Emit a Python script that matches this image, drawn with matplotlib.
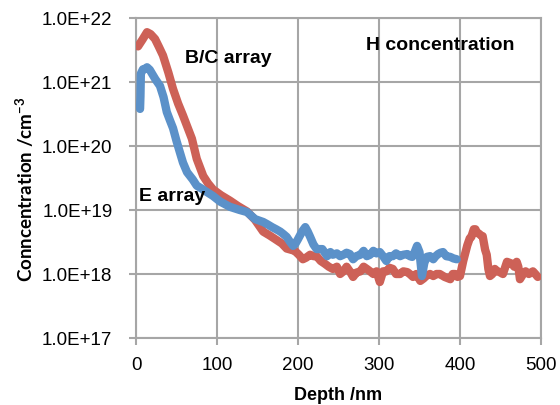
import matplotlib
matplotlib.use("Agg")
import matplotlib.pyplot as plt
from matplotlib.ticker import FixedLocator, FixedFormatter

plt.rcParams["mathtext.default"] = "regular"

# ---- data ----
bc_depth = [2.5, 8, 13.6, 18, 23.5, 28, 33.3, 40, 45.7, 52, 58, 64, 69, 75, 83, 89, 95, 105, 116,
            126, 137, 147, 157, 165, 172, 180, 186, 191, 196, 201, 206, 210, 215, 219, 223, 228,
            233, 238, 243, 248, 252, 256, 260, 264, 268, 272, 277, 281, 285, 289, 293, 297, 301,
            305, 309, 313, 317, 321, 326, 330, 335, 338, 342, 346, 351, 355, 359, 363, 367, 371,
            375, 381, 388, 391, 394, 397, 400, 404, 409, 412, 414, 417, 419, 421, 423, 426, 428,
            431, 433, 435, 437, 440, 443, 446, 449, 453, 458, 461, 464, 467, 470, 472, 474, 478,
            481, 485, 490, 493, 496]
bc_conc = [3.6e21, 4.6e21, 6.0e21, 5.6e21, 4.7e21, 3.6e21, 2.6e21, 1.4e21, 7.8e20, 4.6e20,
           3.0e20, 1.9e20, 1.3e20, 6.3e19, 3.4e19, 2.6e19, 2.1e19, 1.7e19, 1.4e19, 1.15e19,
           9.5e18, 7.0e18, 4.6e18, 4.0e18, 3.5e18, 3.0e18, 2.5e18, 2.4e18, 2.3e18, 2.0e18,
           1.7e18, 1.8e18, 2.0e18, 1.9e18, 1.9e18, 1.6e18, 1.45e18, 1.3e18, 1.2e18, 1.3e18,
           1.0e18, 1.1e18, 1.3e18, 1.1e18, 0.9e18, 1.05e18, 1.1e18, 1.3e18, 1.2e18, 1.1e18,
           1.0e18, 1.1e18, 0.75e18, 1.1e18, 1.1e18, 1.25e18, 1.2e18, 1.0e18, 1.0e18, 1.1e18,
           1.07e18, 1.0e18, 0.9e18, 1.0e18, 0.78e18, 0.85e18, 0.95e18, 1.0e18, 0.93e18, 1.0e18,
           1.0e18, 0.9e18, 0.83e18, 1.0e18, 1.0e18, 0.9e18, 0.93e18, 1.6e18, 2.8e18, 3.6e18,
           3.8e18, 5.0e18, 5.0e18, 4.4e18, 4.3e18, 4.0e18, 3.9e18, 2.4e18, 2.0e18, 1.2e18,
           0.93e18, 1.0e18, 1.2e18, 1.1e18, 1.07e18, 1.0e18, 1.55e18, 1.5e18, 1.45e18, 1.3e18,
           1.55e18, 1.3e18, 0.83e18, 1.0e18, 1.1e18, 1.0e18, 1.1e18, 1.0e18, 0.9e18]

e_depth = [5, 5.5, 6, 8.6, 11, 13.6, 17, 19.8, 24, 29.6, 34, 38, 42, 45.7, 50, 54, 58, 63, 70,
           75, 80, 85, 95, 104, 116, 128, 137, 147, 157, 162, 168, 173, 178, 182, 186, 190, 194,
           197, 200, 205, 209, 212, 215, 219, 223, 230, 236, 240, 243, 248, 252, 256, 260, 264,
           268, 272, 277, 281, 285, 289, 293, 297, 301, 305, 309, 313, 317, 321, 326, 330, 335,
           338, 341, 344, 347, 350, 353, 356, 359, 363, 367, 370, 373, 376, 379, 383, 388, 392,
           396]
e_conc = [3.8e20, 6.0e20, 1.35e21, 1.58e21, 1.6e21, 1.7e21, 1.55e21, 1.35e21, 1.1e21,
          8.7e20, 5.8e20, 3.4e20, 2.5e20, 1.9e20, 1.2e20, 8.1e19, 5.5e19, 3.9e19, 3.0e19,
          2.4e19, 2.2e19, 2.0e19, 1.66e19, 1.35e19, 1.12e19, 1.0e19, 9.3e18, 7.2e18, 6.5e18,
          6.0e18, 5.4e18, 5.0e18, 4.6e18, 4.2e18, 3.8e18, 3.2e18, 2.75e18, 3.0e18, 3.5e18,
          4.6e18, 5.4e18, 4.6e18, 3.8e18, 2.9e18, 2.45e18, 2.45e18, 1.9e18, 2.2e18, 2.0e18,
          2.1e18, 1.9e18, 2.0e18, 2.15e18, 2.05e18, 1.7e18, 1.9e18, 2.0e18, 2.3e18, 1.9e18,
          2.0e18, 2.3e18, 2.1e18, 2.2e18, 1.9e18, 1.6e18, 1.9e18, 1.9e18, 2.1e18, 1.9e18,
          2.0e18, 2.05e18, 1.9e18, 1.85e18, 2.2e18, 2.75e18, 2.2e18, 0.93e18, 1.5e18, 1.85e18,
          1.9e18, 1.7e18, 1.9e18, 2.05e18, 2.15e18, 2.2e18, 1.9e18, 1.85e18, 1.75e18, 1.7e18]

x_ticks = [0, 100, 200, 300, 400, 500]
y_ticks = [1e17, 1e18, 1e19, 1e20, 1e21, 1e22]
y_tick_labels = ["1.0E+17", "1.0E+18", "1.0E+19", "1.0E+20", "1.0E+21", "1.0E+22"]

red = "#cd6157"
blue = "#5b91c9"
grid_c = "#a6a6a6"

fig = plt.figure(figsize=(5.6, 4.06), dpi=100)
ax = fig.add_axes([136/560, 1 - 339/406, 405/560, 320/406])

ax.plot(bc_depth, bc_conc, color=red, lw=6, solid_capstyle="round", solid_joinstyle="round", zorder=3)
ax.plot(e_depth, e_conc, color=blue, lw=6, solid_capstyle="round", solid_joinstyle="round", zorder=4)

ax.set_yscale("log")
ax.set_xlim(0, 500)
ax.set_ylim(1e17, 1e22)
ax.xaxis.set_major_locator(FixedLocator(x_ticks))
ax.yaxis.set_major_locator(FixedLocator(y_ticks))
ax.yaxis.set_major_formatter(FixedFormatter(y_tick_labels))
ax.yaxis.set_minor_locator(FixedLocator([]))
ax.grid(True, color=grid_c, lw=1.5, zorder=0)
for s in ax.spines.values():
    s.set_color(grid_c)
    s.set_linewidth(1.5)
ax.tick_params(axis="both", which="major", direction="out", length=5, width=1.5,
               color=grid_c, labelsize=13.5, labelcolor="black")
ax.tick_params(axis="y", pad=12)
ax.tick_params(axis="x", pad=8)
for lab in ax.get_xticklabels() + ax.get_yticklabels():
    lab.set_family("Liberation Sans")

ax.set_xlabel("Depth /nm", family="Liberation Sans", fontweight="bold", fontsize=13, labelpad=9)
fig.text(25/560, 1 - 189/406, "Conncentration /cm$^{-3}$", rotation=90, ha="center", va="center",
         family="Lato", fontweight="bold", fontsize=13.5)

ax.text(113.6, 2.45e21, "B/C array", ha="center", va="center", family="Liberation Sans",
        fontweight="bold", fontsize=14, zorder=5)
ax.text(375, 3.8e21, "H concentration", ha="center", va="center", family="Liberation Sans",
        fontweight="bold", fontsize=14, zorder=5)
ax.text(4, 1.7e19, "E array", ha="left", va="center", family="Liberation Sans",
        fontweight="bold", fontsize=14, zorder=5)

fig.savefig("out.png", dpi=100)
